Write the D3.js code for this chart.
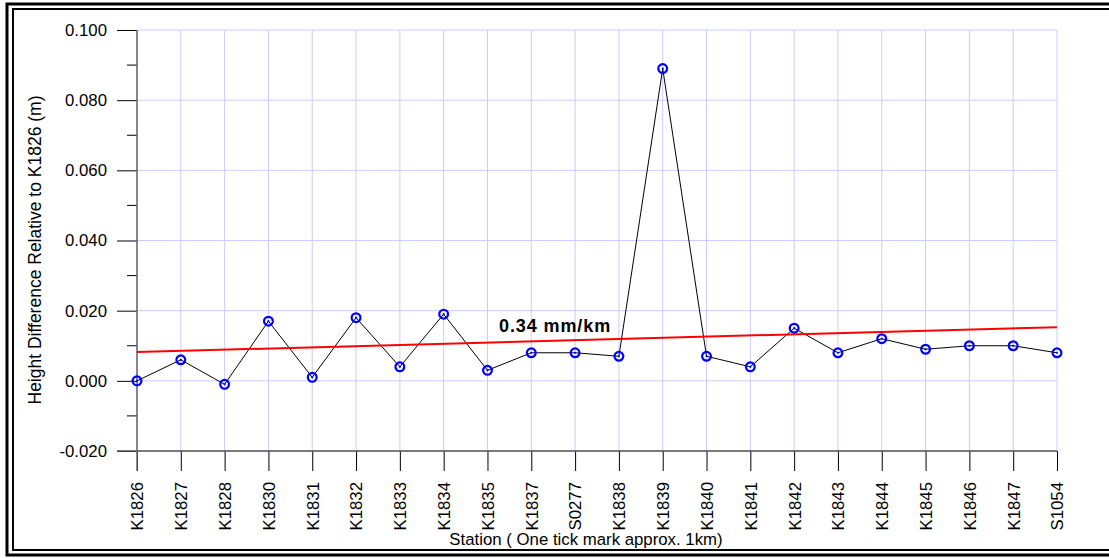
<!DOCTYPE html>
<html>
<head>
<meta charset="utf-8">
<script src="https://cdn.jsdelivr.net/npm/d3@7"></script>
<style>
  html, body { margin: 0; padding: 0; background: #fff; }
  svg { display: block; font-family: "Liberation Sans", Arial, sans-serif; }
</style>
</head>
<body>
<div id="chart"></div>
<script>
// Station levelling profile

const stations = ['K1826', 'K1827', 'K1828', 'K1830', 'K1831', 'K1832', 'K1833', 'K1834',
    'K1835', 'K1837', 'S0277', 'K1838', 'K1839', 'K1840', 'K1841', 'K1842', 'K1843',
    'K1844', 'K1845', 'K1846', 'K1847', 'S1054'];

const heightDiff = [0.000, 0.006, -0.001, 0.017, 0.001, 0.018, 0.004, 0.019,
    0.003, 0.008, 0.008, 0.007, 0.089, 0.007, 0.004, 0.015, 0.008,
    0.012, 0.009, 0.010, 0.010, 0.008];

// linear trend: start value and end value (0.34 mm/km over 21 km)
const trendEnds = [0.0082, 0.0153];
const trendLabel = '0.34 mm/km';

const yMajorTicks = [-0.020, 0.000, 0.020, 0.040, 0.060, 0.080, 0.100];
const yMinorTicks = [-0.010, 0.010, 0.030, 0.050, 0.070, 0.090];

const W = 1109, H = 558;
const margin = { left: 137, right: 1057, top: 30, bottom: 451 };

const svg = d3.select('#chart')
    .append('svg')
    .attr('width', W)
    .attr('height', H);

// double frame round the chart
svg.append('rect')
    .attr('x', 7).attr('y', 4)
    .attr('width', W + 20).attr('height', 551)
    .attr('fill', 'none')
    .attr('stroke', '#000')
    .attr('stroke-width', 3);
svg.append('rect')
    .attr('x', 13).attr('y', 9)
    .attr('width', W + 20).attr('height', 541)
    .attr('fill', 'none')
    .attr('stroke', '#000')
    .attr('stroke-width', 2);

const x = d3.scalePoint()
    .domain(stations)
    .range([margin.left, margin.right]);

const y = d3.scaleLinear()
    .domain([-0.02, 0.1])
    .range([margin.bottom, margin.top]);

// grid
const grid = svg.append('g').attr('class', 'grid');
grid.selectAll('.vgrid')
    .data(stations)
    .enter()
    .append('line')
    .attr('x1', d => x(d)).attr('x2', d => x(d))
    .attr('y1', margin.top).attr('y2', margin.bottom)
    .attr('stroke', '#ccccff')
    .attr('stroke-width', 1);
grid.selectAll('.hgrid')
    .data(yMajorTicks)
    .enter()
    .append('line')
    .attr('x1', margin.left).attr('x2', margin.right)
    .attr('y1', d => y(d)).attr('y2', d => y(d))
    .attr('stroke', '#ccccff')
    .attr('stroke-width', 1);

// y axis
const fmt = d3.format('.3f');
const yAxis = svg.append('g')
    .attr('transform', `translate(${margin.left},0)`)
    .call(d3.axisLeft(y)
        .tickValues(yMajorTicks)
        .tickFormat(d => fmt(d).replace('\u2212', '-'))
        .tickSize(20)
        .tickPadding(10));
yAxis.select('.domain').remove();
yAxis.selectAll('.tick line').attr('stroke', '#000');
yAxis.selectAll('.tick text')
    .attr('font-size', 16.8)
    .attr('font-family', '"Liberation Sans", Arial, sans-serif')
    .attr('fill', '#000');

svg.append('g')
    .attr('transform', `translate(${margin.left},0)`)
    .selectAll('line')
    .data(yMinorTicks)
    .enter()
    .append('line')
    .attr('x1', -10).attr('x2', 0)
    .attr('y1', d => y(d)).attr('y2', d => y(d))
    .attr('stroke', '#000');

// x axis
const xAxis = svg.append('g')
    .attr('transform', `translate(0,${margin.bottom})`)
    .call(d3.axisBottom(x).tickSize(20).tickSizeOuter(0));
xAxis.select('.domain').remove();
xAxis.selectAll('.tick line').attr('stroke', '#000');
xAxis.selectAll('.tick text')
    .attr('font-size', 16.8)
    .attr('font-family', '"Liberation Sans", Arial, sans-serif')
    .attr('fill', '#000')
    .attr('text-anchor', 'end')
    .attr('transform', 'rotate(-90)')
    .attr('x', -31)
    .attr('y', 0)
    .attr('dy', '0.35em');

// axis lines
svg.append('line')
    .attr('x1', 117).attr('x2', margin.right)
    .attr('y1', margin.bottom).attr('y2', margin.bottom)
    .attr('stroke', '#555').attr('stroke-width', 1.5);
svg.append('line')
    .attr('x1', margin.left).attr('x2', margin.left)
    .attr('y1', margin.top).attr('y2', margin.bottom + 20)
    .attr('stroke', '#666').attr('stroke-width', 1.5);

// axis titles
svg.append('text')
    .attr('transform', 'translate(41,250) rotate(-90)')
    .attr('text-anchor', 'middle')
    .attr('font-size', 17.5)
    .text('Height Difference Relative to K1826 (m)');
svg.append('text')
    .attr('x', 586).attr('y', 545)
    .attr('text-anchor', 'middle')
    .attr('font-size', 16.8)
    .text('Station ( One tick mark approx. 1km)');

// data line
const line = d3.line()
    .x((d, i) => x(stations[i]))
    .y(d => y(d));
svg.append('path')
    .datum(heightDiff)
    .attr('d', line)
    .attr('fill', 'none')
    .attr('stroke', '#000')
    .attr('stroke-width', 1);

// trend line
svg.append('line')
    .attr('x1', x(stations[0])).attr('x2', x(stations[stations.length - 1]))
    .attr('y1', y(trendEnds[0])).attr('y2', y(trendEnds[1]))
    .attr('stroke', '#ff0000')
    .attr('stroke-width', 2);

svg.append('text')
    .attr('x', 499).attr('y', 332)
    .attr('font-size', 18)
    .attr('letter-spacing', 0.9)
    .attr('font-weight', 'bold')
    .text(trendLabel);

// markers
const pts = svg.append('g').selectAll('g')
    .data(heightDiff)
    .enter()
    .append('g')
    .attr('transform', (d, i) => `translate(${x(stations[i])},${y(d)})`);
pts.append('circle')
    .attr('r', 4.4)
    .attr('fill', 'none')
    .attr('stroke', '#0000ff')
    .attr('stroke-width', 2.2);
pts.append('circle')
    .attr('r', 1.1)
    .attr('fill', '#0000ff');
</script>
</body>
</html>
